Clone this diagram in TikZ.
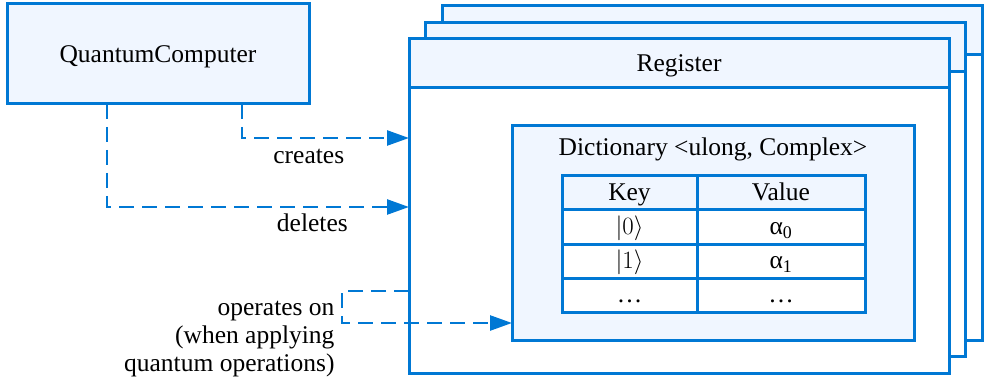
\documentclass[tikz,border=0pt]{standalone}
\usepackage{fontspec}
\setmainfont{Liberation Serif}
\usetikzlibrary{arrows.meta}
\definecolor{edgeblue}{RGB}{0,120,212}
\definecolor{paleblue}{RGB}{240,246,255}

\begin{document}
\begin{tikzpicture}[x=1pt,y=-1pt,
    font=\fontsize{25.5}{30.5}\selectfont,
    every node/.style={text height=20pt, text depth=3pt},
    box/.style={draw=edgeblue, line width=3pt, inner sep=0pt, outer sep=0pt},
    regbox/.style={box, fill=white, minimum width=540pt, minimum height=334pt},
    headbox/.style={box, fill=paleblue, minimum width=540pt, minimum height=49pt, anchor=north},
    cell/.style={box, fill=white, minimum height=34pt, text height=19pt, text depth=4pt},
    lbl/.style={anchor=base, yshift=-26pt},
    flow/.style={draw=edgeblue, line width=2.5pt, dash pattern=on 15pt off 8pt,
      -{Triangle[length=22pt,width=15pt]}}]
    \useasboundingbox (0,0) rectangle (985,382);

    \node[box, fill=paleblue, minimum width=302pt, minimum height=100pt] (qc) at (158,54) {QuantumComputer};

    % stacked registers, back to front
    \foreach \n/\d in {back/33, mid/16.5} {
        \node[regbox] (reg\n) at (679+\d,206-\d) {};
        \node[headbox] (head\n) at (reg\n.north) {};
    }
    \node[regbox] (regfront) at (679,206) {};
    \node[headbox] (headfront) at (regfront.north) {Register};

    \node[box, fill=paleblue, minimum width=402pt, minimum height=214pt] (dict) at (713,233) {};
    \node (dicttitle) at (713,147.5) {Dictionary <ulong, Complex>};

    \node[cell, fill=paleblue, minimum width=135pt] (keyhead) at (629.5,193) {Key};
    \node[cell, fill=paleblue, minimum width=168pt] (valhead) at (781,193) {Value};
    \foreach \i/\k/\v in {1/{$|0\rangle$}/{α\textsubscript{0}}, 2/{$|1\rangle$}/{α\textsubscript{1}}, 3/{…}/{…}} {
        \node[cell, minimum width=135pt] (key\i) at (629.5,193+34*\i) {\k};
        \node[cell, minimum width=168pt] (val\i) at (781,193+34*\i) {\v};
    }

    \coordinate (crex) at (242,0);
    \coordinate (crey) at (0,138);
    \coordinate (delx) at (107,0);
    \coordinate (dely) at (0,207);
    \coordinate (opx) at (342,323);
    \coordinate (opy) at (0,291);
    \draw[flow] (qc.south -| crex) |- node[pos=0.7, lbl] (crelbl) {creates} (regfront.west |- crey);
    \draw[flow] (qc.south -| delx) |- node[pos=0.84, lbl, yshift=1pt] (dellbl) {deletes} (regfront.west |- dely);
    \draw[flow] (regfront.west |- opy) -| (opx) |- (dict.west |- opx);
    \node[align=right, anchor=north east, text height=, text depth=, font=\fontsize{25.5}{28}\selectfont] (oplbl) at (338,298) {operates on\\(when applying\\quantum operations)};
\end{tikzpicture}
\end{document}
